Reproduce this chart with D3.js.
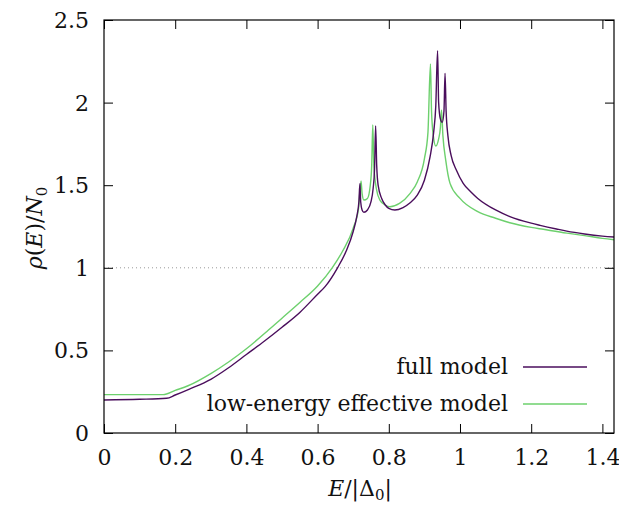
<!DOCTYPE html>
<html><head><meta charset="utf-8">
<script src="https://cdn.jsdelivr.net/npm/d3@7"></script>
<style>body{margin:0;background:#fff}svg{display:block}</style>
</head><body>
<svg id="c" width="619" height="508"></svg>
<script>
const xTicks=[0,0.2,0.4,0.6,0.8,1,1.2,1.4];
const yTicks=[0,0.5,1,1.5,2,2.5];
const seriesNames=["full model","low-energy effective model"];
const fullE=[0,0.10,0.176,0.20,0.24,0.30,0.35,0.40,0.45,0.50,0.55,0.60,0.621,0.656,0.68,0.70,0.71,0.716,0.719,0.721,0.725,0.730,0.740,0.750,0.756,0.760,0.763,0.766,0.770,0.780,0.790,0.80,0.817,0.84,0.86,0.88,0.90,0.916,0.926,0.932,0.937,0.940,0.945,0.950,0.955,0.958,0.961,0.966,0.975,0.99,1.009,1.03,1.05,1.10,1.14,1.20,1.225,1.271,1.30,1.35,1.40,1.44];
const fullRho=[0.200,0.204,0.210,0.230,0.266,0.325,0.395,0.475,0.555,0.640,0.730,0.840,0.886,1.00,1.10,1.22,1.31,1.40,1.51,1.40,1.35,1.336,1.35,1.40,1.48,1.60,1.858,1.62,1.50,1.42,1.38,1.36,1.350,1.365,1.394,1.44,1.53,1.673,1.82,1.98,2.314,2.00,1.90,1.88,1.95,2.177,1.95,1.80,1.68,1.59,1.511,1.46,1.42,1.35,1.31,1.27,1.257,1.235,1.222,1.205,1.192,1.185];
const effE=[0,0.166,0.20,0.236,0.30,0.35,0.40,0.462,0.50,0.55,0.60,0.641,0.67,0.70,0.715,0.722,0.725,0.730,0.740,0.748,0.752,0.755,0.758,0.765,0.775,0.79,0.803,0.83,0.86,0.88,0.90,0.91,0.917,0.920,0.925,0.932,0.940,0.945,0.948,0.952,0.960,0.972,1.00,1.05,1.10,1.14,1.20,1.234,1.30,1.35,1.40,1.44];
const effRho=[0.232,0.232,0.258,0.286,0.360,0.430,0.510,0.623,0.695,0.790,0.890,1.00,1.10,1.24,1.36,1.525,1.45,1.41,1.42,1.50,1.62,1.864,1.62,1.48,1.41,1.38,1.37,1.39,1.451,1.52,1.66,1.82,2.234,1.95,1.80,1.737,1.78,1.85,1.955,1.80,1.65,1.511,1.42,1.34,1.30,1.273,1.245,1.233,1.21,1.195,1.178,1.168];

const FF="'DejaVu Serif','Liberation Serif','Noto Serif',serif";
const svg=d3.select("#c");
const L=104,R=614,T=20,B=433;
const x=d3.scaleLinear().domain([0,1.4326]).range([L,R]);
const y=d3.scaleLinear().domain([0,2.5]).range([B,T]);
const fs=22;
svg.append("clipPath").attr("id","cp").append("rect").attr("x",L).attr("y",T).attr("width",R-L).attr("height",B-T);

svg.append("line").attr("x1",L).attr("x2",R).attr("y1",y(1)).attr("y2",y(1))
  .attr("stroke","#999").attr("stroke-width",1).attr("stroke-dasharray","1,3");

const line=d3.line().x(d=>x(d[0])).y(d=>y(d[1])).curve(d3.curveMonotoneX);
const series=[
  {name:seriesNames[0],color:"#4a0e5c",data:d3.zip(fullE,fullRho)},
  {name:seriesNames[1],color:"#6dd06d",data:d3.zip(effE,effRho)}
];
[series[1],series[0]].forEach(s=>{
  svg.append("path").attr("d",line(s.data)).attr("fill","none").attr("stroke",s.color)
    .attr("stroke-width",1.4).attr("clip-path","url(#cp)");
});

const tl=9;
const gB=svg.append("g").attr("transform",`translate(0,${B})`).call(d3.axisBottom(x).tickValues(xTicks).tickSize(-tl).tickPadding(16).tickFormat(d3.format("~g")));
const gT=svg.append("g").attr("transform",`translate(0,${T})`).call(d3.axisTop(x).tickValues(xTicks).tickSize(-tl).tickFormat(""));
const gL=svg.append("g").attr("transform",`translate(${L},0)`).call(d3.axisLeft(y).tickValues(yTicks).tickSize(-tl).tickPadding(15).tickFormat(d3.format("~g")));
const gR=svg.append("g").attr("transform",`translate(${R},0)`).call(d3.axisRight(y).tickValues(yTicks).tickSize(-tl).tickFormat(""));
[gB,gT,gL,gR].forEach(g=>{g.attr("font-family",FF).attr("font-size",fs);g.select(".domain").remove();g.selectAll("line").attr("stroke","#000").attr("stroke-width",1);g.selectAll("text").attr("fill","#111");});
gL.selectAll("text").attr("dy","0.34em");
svg.append("rect").attr("x",L).attr("y",T).attr("width",R-L).attr("height",B-T).attr("fill","none").attr("stroke","#000").attr("stroke-width",1.2);

series.forEach((s,i)=>{
  const yy=[367,404][i];
  svg.append("text").attr("font-family",FF).attr("font-size",fs).attr("x",508).attr("y",yy).attr("dy","0.3em").attr("text-anchor","end").attr("fill","#111").text(s.name);
  svg.append("line").attr("x1",523).attr("x2",587).attr("y1",yy).attr("y2",yy).attr("stroke",s.color).attr("stroke-width",1.4);
});

const xt=svg.append("text").attr("font-family",FF).attr("font-size",fs).attr("x",360).attr("y",496).attr("text-anchor","middle").attr("fill","#111");
xt.append("tspan").attr("font-style","italic").text("E");
xt.append("tspan").text("/|Δ");
xt.append("tspan").attr("dy",4).attr("font-size",15).text("0");
xt.append("tspan").attr("dy",-4).text("|");
const yt=svg.append("text").attr("font-family",FF).attr("font-size",fs).attr("transform","translate(42,228) rotate(-90)").attr("text-anchor","middle").attr("fill","#111");
yt.append("tspan").attr("font-style","italic").text("ρ");
yt.append("tspan").text("(");
yt.append("tspan").attr("font-style","italic").text("E");
yt.append("tspan").text(")/");
yt.append("tspan").attr("font-style","italic").text("N");
yt.append("tspan").attr("dy",5).attr("font-size",15).text("0");
</script>
</body></html>
